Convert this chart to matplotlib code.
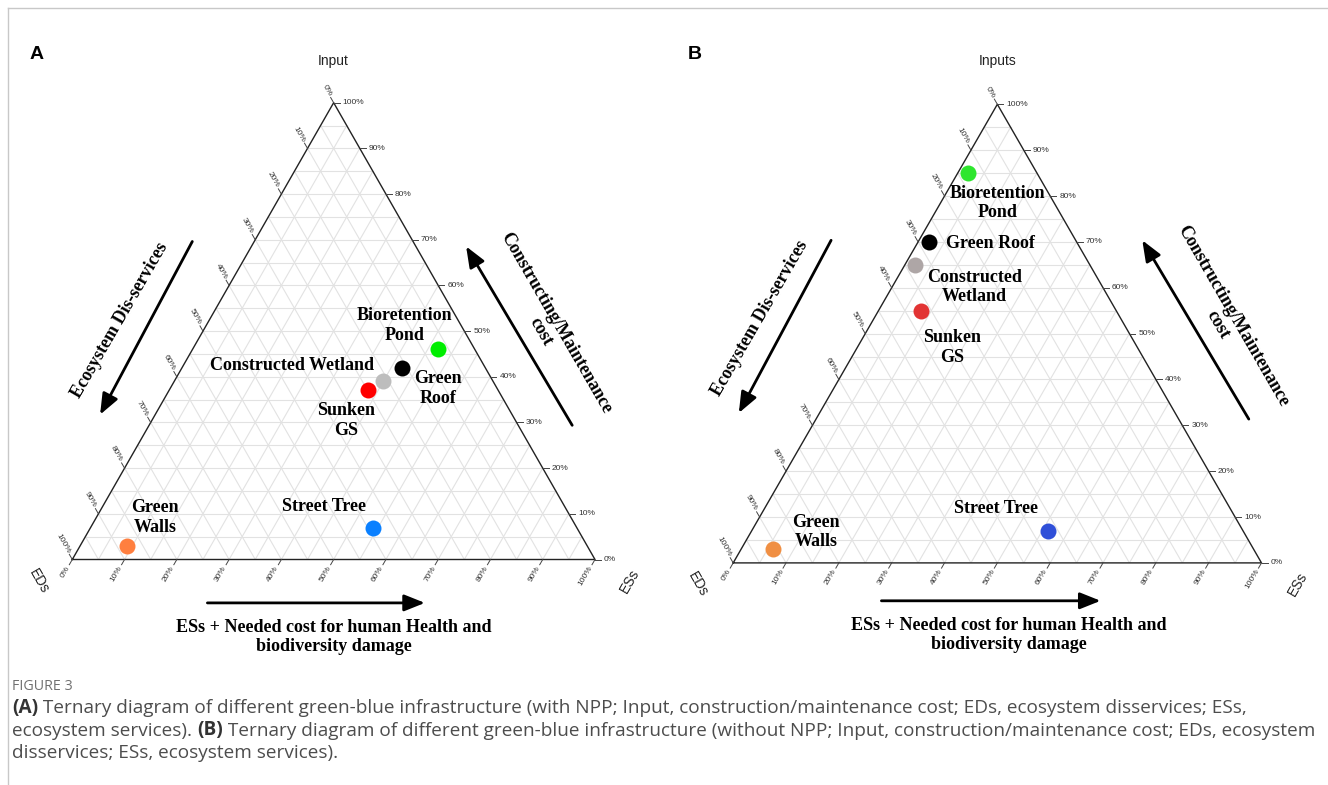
import numpy as np
import matplotlib
matplotlib.use("Agg")
import matplotlib.pyplot as plt
from matplotlib.patches import FancyArrowPatch

FIG_W, FIG_H = 1328, 785

# ---- data (percentages: Input, ESs; EDs is the remainder) ----
a_names = ["Bioretention\nPond", "Green\nRoof", "Constructed Wetland", "Sunken\nGS",
           "Street Tree", "Green\nWalls"]
a_input = [46, 42, 39, 37, 7, 3]
a_ess = [47, 42, 40, 38, 54, 9]
a_eds = [100 - i - s for i, s in zip(a_input, a_ess)]
a_colors = ["#00ee00", "#000000", "#bdbdbd", "#ff0000", "#0a80ff", "#ff7f3f"]

b_names = ["Bioretention\nPond", "Green Roof", "Constructed\nWetland", "Sunken\nGS",
           "Street Tree", "Green\nWalls"]
b_input = [85, 70, 65, 55, 7, 3]
b_ess = [2, 2, 2, 8, 56, 6]
b_eds = [100 - i - s for i, s in zip(b_input, b_ess)]
b_colors = ["#2ee62e", "#000000", "#aea6a6", "#e23434", "#2f4fd8", "#f08f43"]

tick_values = list(range(0, 101, 10))
tick_labels = [f"{v}%" for v in tick_values]

# label offsets in pixels (dx right, dy down) relative to each point
a_offsets = [(-34, -24), (36, 21), (-91, -16), (-22, 30), (-49, -21), (28, -28)]
b_offsets = [(29, 30), (62, 2), (59, 22), (31, 37), (-52, -22), (43, -17)]

SERIF = "Liberation Serif"
SANS = "Liberation Sans"


def fig_xy(x, y):
    return x / FIG_W, 1 - y / FIG_H


def to_xy(inp, ess, eds):
    inp, ess, eds = (np.asarray(v, float) for v in (inp, ess, eds))
    tot = inp + ess + eds
    return (ess + inp / 2) / tot, inp / tot


def ternary_panel(fig, box, names, inp, ess, eds, colors, offsets):
    left, bottom, w, h = box
    ax = fig.add_axes([left / FIG_W, 1 - bottom / FIG_H, w / FIG_W, h / FIG_H])
    ax.set_xlim(0, 1)
    ax.set_ylim(0, 1)
    ax.axis("off")
    px, py = 1 / w, 1 / h  # one pixel in data units

    # grid every 5 %
    grid_kw = dict(color="#e2e2e2", lw=0.8, zorder=1)
    for k in range(1, 20):
        t = k / 20
        ax.plot([t / 2, 1 - t / 2], [t, t], **grid_kw)
        ax.plot([t, t + (1 - t) / 2], [0, 1 - t], **grid_kw)
        ax.plot([(1 - t) / 2, 1 - t], [1 - t, 0], **grid_kw)
    ax.plot([0, 1, 0.5, 0], [0, 0, 1, 0], color="#222222", lw=1.0, zorder=2,
            clip_on=False)

    c60, s60 = 0.5, np.sqrt(3) / 2
    tick_kw = dict(color="#444444", lw=0.7, clip_on=False, zorder=2)
    lab_kw = dict(fontsize=6, family=SANS, color="#333333")
    for v, lab in zip(tick_values, tick_labels):
        f = v / 100
        # right axis: Input
        x, y = 1 - f / 2, f
        ax.plot([x, x + 6 * px], [y, y], **tick_kw)
        ax.text(x + 9 * px, y, lab, ha="left", va="center", **lab_kw)
        # bottom axis: ESs
        x, y = f, 0
        ax.plot([x, x - 6 * c60 * px], [y, y - 6 * s60 * py], **tick_kw)
        ax.text(x - 8 * c60 * px, y - 8 * s60 * py, lab, ha="right", va="center",
                rotation=60, rotation_mode="anchor", **lab_kw)
        # left axis: EDs
        x, y = (1 - f) / 2, 1 - f
        ax.plot([x, x - 6 * c60 * px], [y, y + 6 * s60 * py], **tick_kw)
        ax.text(x - 8 * c60 * px, y + 8 * s60 * py, lab, ha="right", va="center",
                rotation=-60, rotation_mode="anchor", **lab_kw)

    xs, ys = to_xy(inp, ess, eds)
    for name, x, y, col, (dx, dy) in zip(names, xs, ys, colors, offsets):
        ax.plot(x, y, "o", ms=11.5, color=col, mec="none", zorder=4, clip_on=False)
        ax.annotate(name, (x, y), xytext=(dx, -dy), textcoords="offset pixels",
                    ha="center", va="center", multialignment="center",
                    family=SERIF, weight="bold", fontsize=13, zorder=5)
    return ax


def arrow(fig, p0, p1):
    fig.add_artist(FancyArrowPatch(fig_xy(*p0), fig_xy(*p1), transform=fig.transFigure,
                                   arrowstyle="-|>,head_length=0.9,head_width=0.36",
                                   mutation_scale=14, lw=2.0, color="black",
                                   shrinkA=0, shrinkB=0))


def ftext(fig, x, y, s, **kw):
    return fig.text(*fig_xy(x, y), s, **kw)


fig = plt.figure(figsize=(FIG_W / 100, FIG_H / 100), dpi=100)

panels = [
    dict(box=(72.3, 559.5, 522.7, 456.8), names=a_names, inp=a_input, ess=a_ess,
         eds=a_eds, colors=a_colors, offsets=a_offsets, letter="A", top="Input",
         letter_xy=(37, 54.7), top_xy=(333.6, 60.6), eds_xy=(38.7, 581), ess_xy=(629.8, 581),
         left_arrow=((192.3, 241.5), (100.1, 414.6)), left_lab=(120, 320),
         right_arrow=((572.2, 425.3), (466.1, 246.4)), right_lab=(548, 327),
         bottom_arrow=((207.4, 602.9), (424.9, 602.9)), bottom_lab=(333.6, 637)),
    dict(box=(733.2, 562.9, 528.3, 458.6), names=b_names, inp=b_input, ess=b_ess,
         eds=b_eds, colors=b_colors, offsets=b_offsets, letter="B", top="Inputs",
         letter_xy=(695, 54.5), top_xy=(997.6, 61.4), eds_xy=(697.5, 584), ess_xy=(1297.3, 584),
         left_arrow=((831.1, 240.3), (738.8, 413.0)), left_lab=(760, 318),
         right_arrow=((1248.8, 419.1), (1142.3, 240.3)), right_lab=(1225, 320),
         bottom_arrow=((881.4, 600.8), (1100.6, 600.8)), bottom_lab=(1009, 635)),
]

for p in panels:
    ternary_panel(fig, p["box"], p["names"], p["inp"], p["ess"], p["eds"], p["colors"],
                  p["offsets"])
    ftext(fig, *p["letter_xy"], p["letter"], family=SANS, weight="bold", fontsize=14,
          ha="center", va="center")
    ftext(fig, *p["top_xy"], p["top"], family=SANS, fontsize=10, ha="center", va="center",
          color="#222222")
    ftext(fig, *p["eds_xy"], "EDs", family=SANS, fontsize=10, rotation=-60,
          ha="center", va="center", color="#222222")
    ftext(fig, *p["ess_xy"], "ESs", family=SANS, fontsize=10, rotation=60,
          ha="center", va="center", color="#222222")
    arrow(fig, *p["left_arrow"])
    arrow(fig, *p["right_arrow"])
    arrow(fig, *p["bottom_arrow"])
    ftext(fig, *p["left_lab"], "Ecosystem Dis-services", family=SERIF, weight="bold",
          fontsize=13, rotation=60, ha="center", va="center")
    ftext(fig, *p["right_lab"], "Constructing/Maintenance\ncost", family=SERIF,
          weight="bold", fontsize=13, rotation=-60, ha="center", va="center",
          multialignment="center", linespacing=1.05)
    ftext(fig, *p["bottom_lab"], "ESs + Needed cost for human Health and\nbiodiversity damage",
          family=SERIF, weight="bold", fontsize=13, ha="center", va="center",
          multialignment="center", linespacing=1.15)

# border lines of the page frame
fig.add_artist(plt.Line2D([8 / FIG_W, 8 / FIG_W], [0, 1 - 8 / FIG_H], color="#c8c8c8",
                          lw=1, transform=fig.transFigure))
fig.add_artist(plt.Line2D([8 / FIG_W, 1], [1 - 8 / FIG_H, 1 - 8 / FIG_H], color="#c8c8c8",
                          lw=1, transform=fig.transFigure))

# caption
CAP = "Open Sans"
ftext(fig, 12, 686, "FIGURE 3", family=CAP, fontsize=10.3, color="#707070", ha="left",
      va="center")
caption_lines = [
    [("(A)", "bold"), (" Ternary diagram of different green-blue infrastructure (with NPP; Input, "
                       "construction/maintenance cost; EDs, ecosystem disservices; ESs,", "normal")],
    [("ecosystem services). ", "normal"), ("(B)", "bold"),
     (" Ternary diagram of different green-blue infrastructure (without NPP; Input, "
      "construction/maintenance cost; EDs, ecosystem", "normal")],
    [("disservices; ESs, ecosystem services).", "normal")],
]
caption_y = [708, 730.5, 753]
renderer = fig.canvas.get_renderer()
for runs, y in zip(caption_lines, caption_y):
    x = 12
    for s, wgt in runs:
        t = ftext(fig, x, y, s, family=CAP, weight=wgt, fontsize=13.7,
                  color="#4d4d4d" if wgt == "normal" else "#333333",
                  ha="left", va="center")
        x += t.get_window_extent(renderer).width

fig.savefig("out.png", dpi=100)
